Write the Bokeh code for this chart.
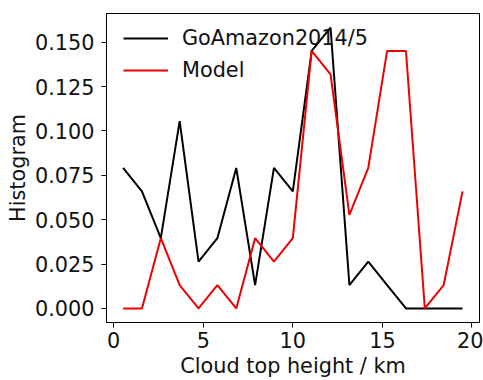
from bokeh.plotting import figure
from bokeh.models import FixedTicker, NumeralTickFormatter, Range1d, Legend, LegendItem
from bokeh.embed import file_html
from bokeh.resources import INLINE

# Bin centres of the cloud-top-height histogram (km)
height_km = [0.526, 1.579, 2.632, 3.684, 4.737, 5.789, 6.842, 7.895, 8.947, 10.000,
             11.053, 12.105, 13.158, 14.211, 15.263, 16.316, 17.368, 18.421, 19.474]

# Normalised histograms
goamazon = [0.0792, 0.0660, 0.0396, 0.1056, 0.0264, 0.0396, 0.0792, 0.0132, 0.0792, 0.0660,
            0.1451, 0.1583, 0.0132, 0.0264, 0.0132, 0.0, 0.0, 0.0, 0.0]
model = [0.0, 0.0, 0.0396, 0.0132, 0.0, 0.0132, 0.0, 0.0396, 0.0264, 0.0396,
         0.1451, 0.1319, 0.0528, 0.0792, 0.1451, 0.1451, 0.0, 0.0132, 0.0660]

x_ticks = [0, 5, 10, 15, 20]
y_ticks = [0.0, 0.025, 0.05, 0.075, 0.1, 0.125, 0.15]

FONT = "DejaVu Sans"
SIZE = "20.8px"
TEXT = "#111111"

x0, x1 = -0.40, 20.42
y0, y1 = -0.0079, 0.1662

p = figure(width=483, height=380, output_backend="svg", toolbar_location=None,
           x_range=Range1d(x0, x1), y_range=Range1d(y0, y1),
           min_border_left=106, min_border_right=4, min_border_top=13, min_border_bottom=54)

p.xgrid.visible = False
p.ygrid.visible = False
p.outline_line_color = "black"
p.outline_line_width = 1
p.outline_line_alpha = 1

r_obs = p.line(height_km, goamazon, line_color="black", line_width=2)
r_mod = p.line(height_km, model, line_color="#ee0000", line_width=2)

for ax in (p.xaxis[0], p.yaxis[0]):
    ax.axis_line_color = "black"
    ax.major_tick_line_color = "black"
    ax.major_tick_out = 5
    ax.major_tick_in = 0
    ax.minor_tick_line_color = None
    ax.major_label_text_font = FONT
    ax.major_label_text_font_size = SIZE
    ax.major_label_text_color = TEXT
    ax.axis_label_text_font = FONT
    ax.axis_label_text_font_size = SIZE
    ax.axis_label_text_font_style = "normal"
    ax.axis_label_text_color = TEXT

p.xaxis.ticker = FixedTicker(ticks=x_ticks)
p.yaxis.ticker = FixedTicker(ticks=y_ticks)
p.yaxis.formatter = NumeralTickFormatter(format="0.000")
p.xaxis.axis_label = "Cloud top height / km"
p.yaxis.axis_label = "Histogram"
p.xaxis.major_label_standoff = 4
p.yaxis.major_label_standoff = 7
p.xaxis.axis_label_standoff = 3
p.yaxis.axis_label_standoff = 2

legend = Legend(items=[LegendItem(label="GoAmazon2014/5", renderers=[r_obs]),
                       LegendItem(label="Model", renderers=[r_mod])],
                location=(17, 237), padding=0, spacing=2, margin=0,
                glyph_width=45, glyph_height=30, label_height=30, label_standoff=14,
                label_text_font=FONT, label_text_font_size=SIZE, label_text_color=TEXT,
                border_line_alpha=0, background_fill_alpha=0)
p.add_layout(legend)

open("out.html", "w").write(file_html(p, INLINE))
